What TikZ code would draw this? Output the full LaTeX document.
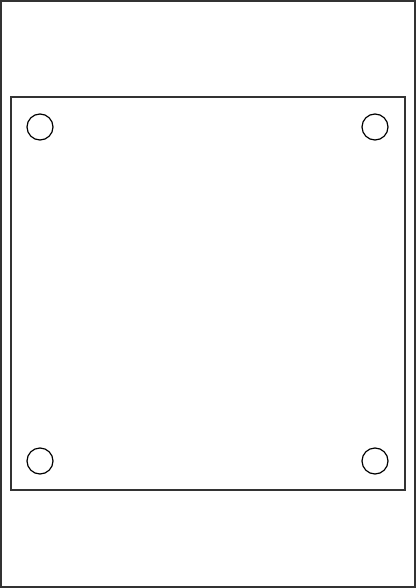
\documentclass[tikz,border=0pt]{standalone}
\begin{document}
\begin{tikzpicture}[x=1pt,y=-1pt,
  frame/.style={draw=black!80,line width=1.4pt},
  hole/.style={draw=black,line width=1.2pt,circle,minimum size=26pt,inner sep=0pt}]
\useasboundingbox (0,0) rectangle (416,588);
\draw[frame] (1,1) rectangle (415,587);
\draw[frame] (11,97) rectangle (405,490);
\node[hole] (h1) at (40,127) {};
\node[hole] (h2) at (375,127) {};
\node[hole] (h3) at (40,461) {};
\node[hole] (h4) at (375,461) {};
\end{tikzpicture}
\end{document}
